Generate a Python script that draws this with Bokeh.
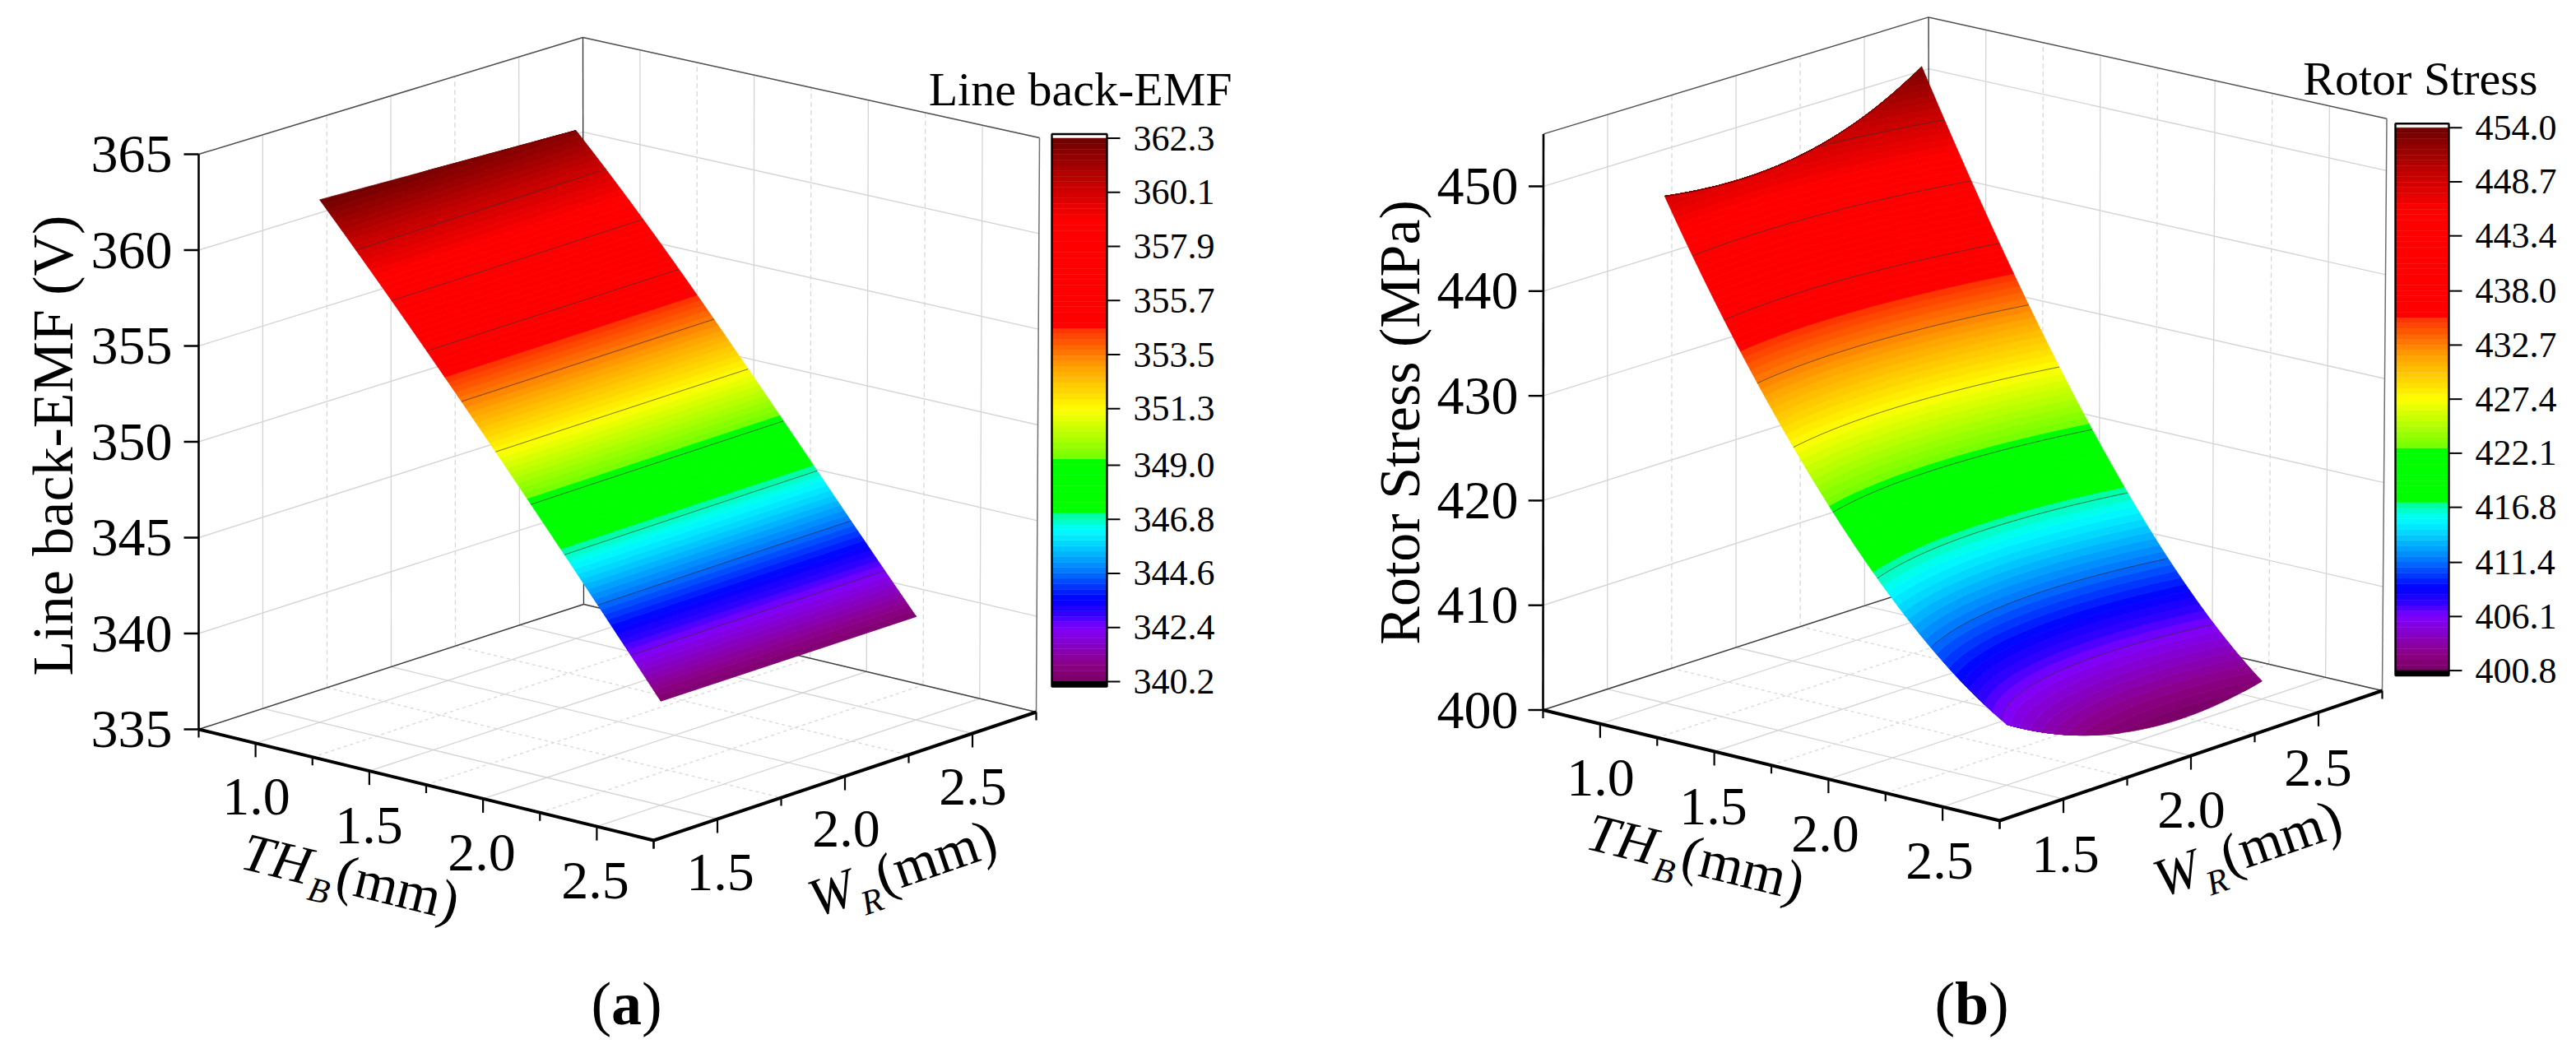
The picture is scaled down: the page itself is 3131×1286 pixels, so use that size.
import numpy as np
from bokeh.plotting import figure
from bokeh.layouts import row
from bokeh.models import Range1d
from bokeh.core.properties import value
from bokeh.embed import file_html
from bokeh.resources import INLINE

# ---------- data ----------
TH_VALUES = [1.0, 1.25, 1.5, 1.75, 2.0, 2.25, 2.5]
WR_VALUES = [1.5, 1.75, 2.0, 2.25, 2.5]
EMF_WR150 = [362.3, 358.8, 355.3, 351.7, 347.9, 344.2, 340.4]
EMF_WR175 = [362.2, 358.7, 355.2, 351.6, 347.8, 344.1, 340.4]
EMF_WR200 = [362.05, 358.65, 355.15, 351.55, 347.8, 344.1, 340.4]
EMF_WR225 = [361.9, 358.6, 355.1, 351.5, 347.75, 344.05, 340.4]
EMF_WR250 = [361.8, 358.5, 355.0, 351.4, 347.7, 344.0, 340.4]
STRESS_WR150 = [448.5, 438.4, 429.5, 421.8, 415.1, 409.8, 405.8]
STRESS_WR175 = [447.8, 437.3, 428.05, 419.9, 412.85, 407.2, 402.8]
STRESS_WR200 = [448.4, 437.5, 427.9, 419.3, 411.9, 405.9, 401.0]
STRESS_WR225 = [449.9, 439.1, 429.05, 420.1, 412.15, 405.9, 400.8]
STRESS_WR250 = [453.4, 441.9, 431.5, 422.1, 413.8, 407.1, 401.7]
EMF_CB_LABELS = ["340.2", "342.4", "344.6", "346.8", "349.0", "351.3", "353.5", "355.7", "357.9", "360.1", "362.3"]
STRESS_CB_LABELS = ["400.8", "406.1", "411.4", "416.8", "422.1", "427.4", "432.7", "438.0", "443.4", "448.7", "454.0"]
EMF_Z_TICKS = [335, 340, 345, 350, 355, 360, 365]
STRESS_Z_TICKS = [400, 410, 420, 430, 440, 450]
TH_LABELS = ["1.0", "1.5", "2.0", "2.5"]
WR_LABELS = ["1.5", "2.0", "2.5"]

FONT = value("Liberation Serif")
MID = 0.33  # distance from the alphabetic baseline to a "middle" anchor, in em
STOPS = [(0, "#780064"), (.03, "#8c0084"), (.10, "#8000ff"), (.125, "#3000ff"), (.152, "#0000ff"),
         (.20, "#0070ff"), (.25, "#00d0ff"), (.28, "#00ffff"), (.311, "#00ff90"), (.312, "#00ff00"),
         (.409, "#00ff00"), (.41, "#70ff00"), (.50, "#ffff00"), (.58, "#ffa000"), (.649, "#ff3000"),
         (.655, "#ff0000"), (.847, "#ff0000"), (.92, "#c00000"), (1, "#6e0000")]


def cmap(f):
    fs = [s[0] for s in STOPS]
    rgb = [[int(s[1][k:k + 2], 16) for k in (1, 3, 5)] for s in STOPS]
    c = [int(round(np.interp(f, fs, [r[k] for r in rgb]))) for k in range(3)]
    return "#%02x%02x%02x" % tuple(c)


def panel(x0, x1, corners, zr, z_ticks, grid, deg, cb, title, zlabel, lay):
    p = figure(width=x1 - x0, height=1278, x_range=Range1d(x0, x1), y_range=Range1d(1278, 0),
               toolbar_location=None, output_backend="svg", min_border=0,
               outline_line_color=None, background_fill_color="white")
    p.axis.visible = False
    p.grid.visible = False
    TH0, TH1, WR0, WR1 = 0.75, 2.75, 1.25, 2.75
    L, F, R, B, Lt, Ft, Rt, Bt = [np.array(c, float) for c in corners]

    def proj(th, wr, z):
        th, wr, z = np.asarray(th, float), np.asarray(wr, float), np.asarray(z, float)
        u = (th - TH0) / (TH1 - TH0)
        v = (wr - WR0) / (WR1 - WR0)
        w = (z - zr[0]) / (zr[1] - zr[0])
        out = []
        for k in (0, 1):
            fl = (1 - u) * (1 - v) * L[k] + u * (1 - v) * F[k] + u * v * R[k] + (1 - u) * v * B[k]
            tp = (1 - u) * (1 - v) * Lt[k] + u * (1 - v) * Ft[k] + u * v * Rt[k] + (1 - u) * v * Bt[k]
            out.append(fl + (tp - fl) * w)
        return out

    def seg(a, b, color, width, dash="solid"):
        xa, ya = proj(*a)
        xb, yb = proj(*b)
        p.line([float(xa), float(xb)], [float(ya), float(yb)], line_color=color, line_width=width, line_dash=dash)

    GC, DC = "#d4d4d4", "#d8d8d8"
    for z in z_ticks:
        seg((TH0, WR0, z), (TH0, WR1, z), GC, 1.4)
        seg((TH0, WR1, z), (TH1, WR1, z), GC, 1.4)
    for w, major in [(1.5, 1), (1.75, 0), (2.0, 1), (2.25, 0), (2.5, 1)]:
        seg((TH0, w, zr[0]), (TH0, w, zr[1]), GC if major else DC, 1.3, "solid" if major else "6 4")
    for t, major in [(1.0, 1), (1.25, 0), (1.5, 1), (1.75, 0), (2.0, 1), (2.25, 0), (2.5, 1)]:
        seg((t, WR1, zr[0]), (t, WR1, zr[1]), GC if major else DC, 1.3, "solid" if major else "6 4")
    for w, major in [(1.5, 1), (1.75, 0), (2.0, 1), (2.25, 0), (2.5, 1)]:
        seg((TH0, w, zr[0]), (TH1, w, zr[0]), GC if major else DC, 1.3, "solid" if major else "4 4")
    for t, major in [(1.0, 1), (1.25, 0), (1.5, 1), (1.75, 0), (2.0, 1), (2.25, 0), (2.5, 1)]:
        seg((t, WR0, zr[0]), (t, WR1, zr[0]), GC if major else DC, 1.3, "solid" if major else "4 4")
    seg((TH0, WR0, zr[1]), (TH0, WR1, zr[1]), "#505050", 1.5)
    seg((TH0, WR1, zr[1]), (TH1, WR1, zr[1]), "#505050", 1.5)
    seg((TH0, WR1, zr[0]), (TH0, WR1, zr[1]), "#303030", 1.3)
    seg((TH1, WR1, zr[0]), (TH1, WR1, zr[1]), "#707070", 1.5)
    seg((TH0, WR0, zr[0]), (TH0, WR1, zr[0]), "#404040", 1.5)
    seg((TH0, WR1, zr[0]), (TH1, WR1, zr[0]), "#404040", 1.5)

    # surface
    TH, WR = np.array(TH_VALUES), np.array(WR_VALUES)
    Z = np.array(grid)
    tt, ww = np.meshgrid(TH, WR)
    ii = [(i, j) for i in range(deg[0] + 1) for j in range(deg[1] + 1)]
    A = np.stack([((tt - 1.75) ** i * (ww - 2) ** j).ravel() for i, j in ii], axis=1)
    coef = np.linalg.lstsq(A, Z.ravel(), rcond=None)[0]

    def surf(t, w):
        t, w = np.asarray(t, float), np.asarray(w, float)
        return sum(c * (t - 1.75) ** i * (w - 2) ** j for c, (i, j) in zip(coef, ii))

    th_f = np.linspace(1, 2.5, 601)
    wr_f = np.linspace(1.5, 2.5, 161)

    def level_th(level):
        out = []
        for w in wr_f:
            zz = np.minimum.accumulate(surf(th_f, w))
            out.append(np.interp(level, zz[::-1], th_f[::-1]))
        return np.array(out)

    vals = [float(s) for s in cb["labels"]]
    vmin, vmax = vals[0], vals[-1]
    edges = np.linspace(vmin, vmax, 101)
    bounds = [level_th(e) for e in edges]
    xs, ys, cols = [], [], []
    for i in range(100):
        lo = bounds[i]
        hi = bounds[i + 1]
        if i == 0:
            lo = np.full_like(lo, 2.5)
        if i == 99:
            hi = np.full_like(hi, 1.0)
        if np.all(np.abs(lo - hi) < 1e-9):
            continue
        ta = np.concatenate([hi, lo[::-1]])
        wa = np.concatenate([wr_f, wr_f[::-1]])
        X, Y = proj(ta, wa, surf(ta, wa))
        xs.append(X.tolist())
        ys.append(Y.tolist())
        cols.append(cmap((i + .5) / 100))
    p.patches(xs, ys, fill_color=cols, line_color=cols, line_width=0.8)
    for v in vals[1:-1]:
        t = level_th(v)
        m = (t > 1.0005) & (t < 2.4995)
        X, Y = proj(t[m], wr_f[m], np.full(m.sum(), v))
        p.line(X, Y, line_color="#303030", line_width=0.9, line_alpha=0.75)

    seg((TH0, WR0, zr[0]), (TH0, WR0, zr[1]), "black", 2.6)
    seg((TH0, WR0, zr[0]), (TH1, WR0, zr[0]), "black", 4)
    seg((TH1, WR0, zr[0]), (TH1, WR1, zr[0]), "black", 4)
    for z in z_ticks:
        xx, yy = proj(TH0, WR0, z)
        p.line([float(xx) - 18, float(xx)], [float(yy), float(yy)], line_color="black", line_width=2.4)
    p.text(lay["z_x"], [float(proj(TH0, WR0, z)[1]) for z in z_ticks], text=[str(z) for z in z_ticks],
           text_font=FONT, text_font_size=value("66px"), text_align="right", text_baseline="middle")
    for n in range(9):
        t = TH0 + .25 * n
        xx, yy = proj(t, WR0, zr[0])
        ln = 17 if n % 2 == 1 else 10
        p.line([float(xx)] * 2, [float(yy), float(yy) + ln], line_color="black", line_width=2.2)
    for n in range(7):
        w = WR0 + .25 * n
        xx, yy = proj(TH1, w, zr[0])
        ln = 17 if n % 2 == 1 else 10
        p.line([float(xx)] * 2, [float(yy), float(yy) + ln], line_color="black", line_width=2.2)
    for lab, (x, y) in zip(TH_LABELS, lay["th_pos"]):
        p.text([x], [y], text=[lab], text_font=FONT, text_font_size=value("66px"), text_align="center", text_baseline="middle")
    for lab, (x, y) in zip(WR_LABELS, lay["wr_pos"]):
        p.text([x], [y], text=[lab], text_font=FONT, text_font_size=value("66px"), text_align="center", text_baseline="middle")

    # z title: baseline position given, anchored at the em middle
    p.text([lay["zl"][0] - MID * 70], [lay["zl"][1]], text=[zlabel], angle=[np.pi / 2], text_font=FONT,
           text_font_size=value("70px"), text_align="center", text_baseline="middle")

    def runs(start, deg_, parts):
        a = np.radians(deg_)
        ux, uy = np.cos(a), -np.sin(a)
        nx, ny = np.sin(a), np.cos(a)
        d = 0
        for txt, size, style, width, drop in parts:
            off = drop - MID * size
            p.text([start[0] + ux * d + nx * off], [start[1] + uy * d + ny * off], text=[txt], angle=[a],
                   text_font=FONT, text_font_size=value(f"{size}px"), text_font_style=style,
                   text_align="left", text_baseline="middle")
            d += width

    runs(lay["th_title"], -13.7, [("TH", 66, "italic", 88, 0), ("B", 42, "italic", 30, 18), ("(mm)", 68, "normal", 0, 0)])
    runs(lay["wr_title"], 19, [("W", 66, "italic", 58, 0), ("R", 42, "italic", 28, 18), ("(mm)", 68, "normal", 0, 0)])

    x = lay["letter"][0]
    y = lay["letter"][1] - MID * 74
    for txt, st, wd in [("(", "normal", 24.6), (lay["letter_txt"], "bold", lay["letter_w"]), (")", "normal", 24.6)]:
        p.text([x], [y], text=[txt], text_font=FONT, text_font_size=value("74px"), text_font_style=st,
               text_align="left", text_baseline="middle")
        x += wd

    yb, yt = cb["y"]
    cx0, cx1 = cb["x"]

    def cy(v):
        return yb + (v - vmin) / (vmax - vmin) * (yt - yb)

    p.quad(left=cx0, right=cx1, top=[cy(edges[i + 1]) for i in range(100)], bottom=[cy(edges[i]) for i in range(100)],
           fill_color=[cmap((i + .5) / 100) for i in range(100)],
           line_color=[cmap((i + .5) / 100) for i in range(100)], line_width=0.5)
    p.quad(left=[cx0], right=[cx1], top=[yb], bottom=[yb + 6], fill_color="black", line_color="black")
    p.quad(left=[cx0], right=[cx1], top=[yt - 5], bottom=[yb + 6], fill_alpha=0, line_color="black", line_width=2.4)
    for v in vals:
        p.line([cx1, cx1 + 16], [cy(v), cy(v)], line_color="black", line_width=2)
    p.text(cx1 + 32, [cy(v) for v in vals], text=cb["labels"], text_font=FONT, text_font_size=value("44px"),
           text_align="left", text_baseline="middle")
    p.text([cb["title"][0]], [cb["title"][1] - MID * 58], text=[title], text_font=FONT, text_font_size=value("58px"),
           text_align="right", text_baseline="middle")
    return p


p1 = panel(0, 1600,
           [(241, 886), (794, 1021), (1259, 865), (709, 734), (241, 187), (795, 316), (1263, 167), (708, 45)],
           (335, 365), EMF_Z_TICKS, [EMF_WR150, EMF_WR175, EMF_WR200, EMF_WR225, EMF_WR250], (3, 2),
           dict(labels=EMF_CB_LABELS, y=(828, 167.5), x=(1278, 1345), title=(1497, 127)),
           "Line back-EMF", "Line back-EMF (V)",
           dict(z_x=209, zl=(87, 541), th_pos=[(311, 968), (448, 1003), (585, 1036), (723, 1070)],
                wr_pos=[(875, 1060), (1028, 1007), (1182, 956)],
                th_title=(290, 1054), wr_title=(991, 1114), letter=(718, 1244), letter_txt="a", letter_w=37))
p2 = panel(1600, 3123,
           [(1875, 862.5), (2430, 997), (2895, 839), (2344, 710.5), (1875.5, 162.4), (2431, 295), (2900.5, 143.7), (2343.6, 20.4)],
           (400, 455), STRESS_Z_TICKS, [STRESS_WR150, STRESS_WR175, STRESS_WR200, STRESS_WR225, STRESS_WR250], (4, 3),
           dict(labels=STRESS_CB_LABELS, y=(814.6, 154.7), x=(2911, 2976), title=(3084, 114)),
           "Rotor Stress", "Rotor Stress (MPa)",
           dict(z_x=1845, zl=(1724, 513), th_pos=[(1945, 945), (2082, 980), (2218, 1013), (2357, 1046)],
                wr_pos=[(2510, 1038), (2663, 984), (2817, 933)],
                th_title=(1925, 1030), wr_title=(2626, 1090), letter=(2351, 1244), letter_txt="b", letter_w=41))

open("out.html", "w").write(file_html(row(p1, p2), INLINE))
